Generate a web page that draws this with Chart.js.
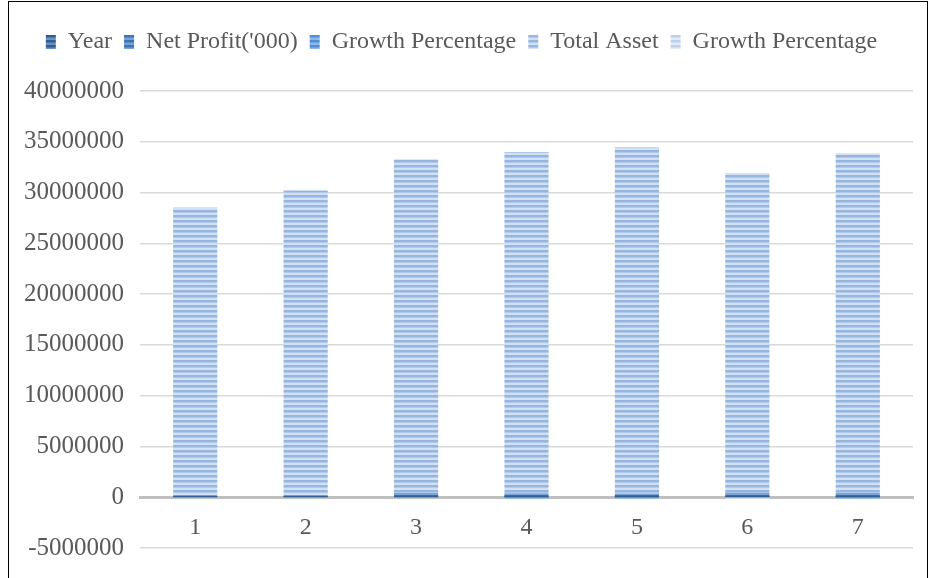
<!DOCTYPE html>
<html>
<head>
<meta charset="utf-8">
<script src="https://cdn.jsdelivr.net/npm/chart.js@4.4.1/dist/chart.umd.min.js"></script>
<style>
  html, body { margin: 0; padding: 0; background: #fff; }
  #wrap { position: relative; width: 932px; height: 578px; }
  #frame { position: absolute; left: 8px; top: 1px; width: 920px; height: 600px; border: 1.5px solid #000; box-sizing: border-box; pointer-events: none; }
</style>
</head>
<body>
<div id="wrap">
  <canvas id="barChart" width="932" height="578"></canvas>
  <div id="frame"></div>
</div>
<script>
// chart values
const categories = ['1', '2', '3', '4', '5', '6', '7'];
const years = [2012, 2013, 2014, 2015, 2016, 2017, 2018];
const netProfit = [120000, 150000, 420000, 380000, 360000, 430000, 410000];
const profitGrowth = [0, 25, 180, -10, -5, 19, -5];
const totalAsset = [28400000, 30050000, 32850000, 33600000, 34100000, 31500000, 33450000];
const assetGrowth = [0, 5.8, 9.3, 2.3, 1.5, -7.6, 6.2];
const yTicks = [-5000000, 0, 5000000, 10000000, 15000000, 20000000, 25000000, 30000000, 35000000, 40000000];

const fontFamily = "'Liberation Serif', 'Times New Roman', serif";

// horizontal stripe fill like the original bars
const makeStripes = (dark, mid, light) => {
    const c = document.createElement('canvas');
    c.width = 4;
    c.height = 5;
    const g = c.getContext('2d');
    g.fillStyle = light;
    g.fillRect(0, 0, 4, 5);
    g.fillStyle = dark;
    g.fillRect(0, 0, 4, 2);
    g.fillStyle = mid;
    g.fillRect(0, 2, 4, 1);
    return g.createPattern(c, 'repeat');
};

// extra room under the legend
const legendGap = {
    id: 'legendGap',
    beforeInit(chart) {
        const origFit = chart.legend.fit;
        chart.legend.fit = function () {
            origFit.bind(chart.legend)();
            this.height += 27;
        };
    }
};

const ctx = document.getElementById('barChart').getContext('2d');

new Chart(ctx, {
    type: 'bar',
    data: {
        labels: categories,
        datasets: [
            { label: 'Year', data: years, backgroundColor: makeStripes('#2f5f93', '#4a78ad', '#6b93c2') },
            { label: "Net Profit('000)", data: netProfit, backgroundColor: makeStripes('#3c74b5', '#5b8cc8', '#7aa3d6') },
            { label: 'Growth Percentage', data: profitGrowth, backgroundColor: makeStripes('#4f8fd6', '#6ca2de', '#8fb8e7') },
            { label: 'Total Asset', data: totalAsset, backgroundColor: makeStripes('#96b6e0', '#b0c9ea', '#d2e0f3') },
            { label: 'Growth Percentage', data: assetGrowth, backgroundColor: makeStripes('#bcd0ec', '#cfdcf1', '#e2ebf7') }
        ]
    },
    plugins: [legendGap],
    options: {
        responsive: false,
        animation: false,
        layout: { padding: { left: 10, right: 19, top: 18, bottom: 30 } },
        datasets: {
            bar: { barPercentage: 0.4, categoryPercentage: 1.0 }
        },
        plugins: {
            tooltip: { enabled: false },
            legend: {
                position: 'top',
                labels: {
                    font: { family: fontFamily, size: 24 },
                    color: '#595959',
                    boxWidth: 10,
                    boxHeight: 14,
                    padding: 12
                }
            }
        },
        scales: {
            x: {
                stacked: true,
                position: { y: 0 },
                grid: { display: false },
                border: { color: '#bfbfbf', width: 3 },
                ticks: {
                    font: { family: fontFamily, size: 24 },
                    color: '#595959',
                    padding: 8
                }
            },
            y: {
                stacked: true,
                min: -5000000,
                max: 40000000,
                afterFit: (axis) => {
                    axis.width = 130;
                    axis.paddingBottom = 0;
                },
                afterBuildTicks: (axis) => { axis.ticks = yTicks.map(v => ({ value: v })); },
                border: { display: false },
                grid: {
                    color: (c) => c.tick && c.tick.value === 0 ? '#bfbfbf' : '#d9d9d9',
                    lineWidth: (c) => c.tick && c.tick.value === 0 ? 3 : 1.5,
                    drawTicks: false
                },
                ticks: {
                    font: { family: fontFamily, size: 25 },
                    color: '#595959',
                    padding: 16,
                    callback: (v) => String(v)
                }
            }
        }
    }
});
</script>
</body>
</html>
